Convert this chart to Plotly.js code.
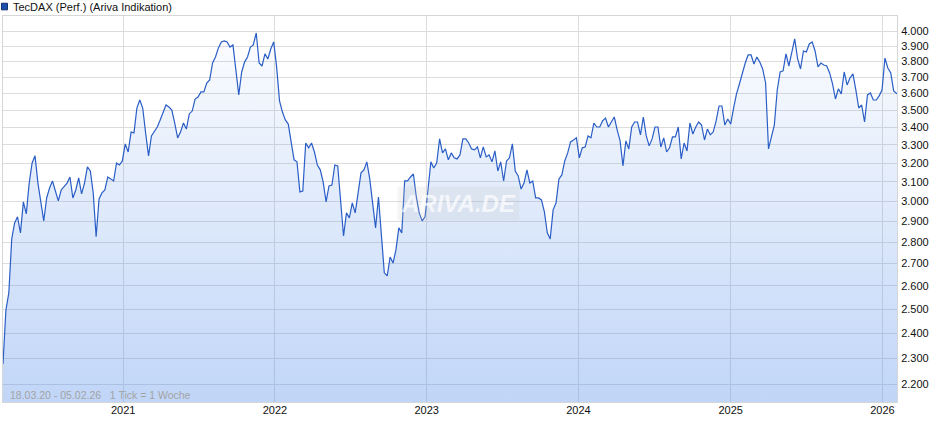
<!DOCTYPE html>
<html>
<head>
<meta charset="utf-8">
<script src="https://cdn.plot.ly/plotly-3.0.1.min.js"></script>
<style>html,body{margin:0;padding:0;background:#fff;}#chart{width:940px;height:435px;}</style>
</head>
<body>
<div id="chart"></div>
<script>
// Weekly ticks ("1 Tick = 1 Woche"), 18.03.20 - 05.02.26
const dates2020 = ['2020-03-18','2020-03-25','2020-04-01','2020-04-08','2020-04-15','2020-04-22','2020-04-29','2020-05-06','2020-05-13','2020-05-20','2020-05-27','2020-06-03','2020-06-10','2020-06-17','2020-06-24','2020-07-01','2020-07-08','2020-07-15','2020-07-22','2020-07-29','2020-08-05','2020-08-12','2020-08-19','2020-08-26','2020-09-02','2020-09-09','2020-09-16','2020-09-23','2020-09-30','2020-10-07','2020-10-14','2020-10-21','2020-10-28','2020-11-04','2020-11-11','2020-11-18','2020-11-25','2020-12-02','2020-12-09','2020-12-16','2020-12-23','2020-12-30'];
const values2020 = [2278,2496,2569,2815,2892,2922,2844,2997,2937,3094,3201,3240,3094,2992,2902,3017,3068,3105,3048,3002,3058,3074,3094,3126,3017,3058,3121,3038,3094,3180,3158,3043,2825,3012,3043,3058,3126,3116,3105,3201,3190,3212];

const dates2021 = ['2021-01-06','2021-01-13','2021-01-20','2021-01-27','2021-02-03','2021-02-10','2021-02-17','2021-02-24','2021-03-03','2021-03-10','2021-03-17','2021-03-24','2021-03-31','2021-04-07','2021-04-14','2021-04-21','2021-04-28','2021-05-05','2021-05-12','2021-05-19','2021-05-26','2021-06-02','2021-06-09','2021-06-16','2021-06-23','2021-06-30','2021-07-07','2021-07-14','2021-07-21','2021-07-28','2021-08-04','2021-08-11','2021-08-18','2021-08-25','2021-09-01','2021-09-08','2021-09-15','2021-09-22','2021-09-29','2021-10-06','2021-10-13','2021-10-20','2021-10-27','2021-11-03','2021-11-10','2021-11-17','2021-11-24','2021-12-01','2021-12-08','2021-12-15','2021-12-22','2021-12-29'];
const values2021 = [3306,3261,3373,3368,3513,3561,3513,3368,3240,3351,3379,3402,3443,3484,3531,3519,3501,3425,3340,3373,3425,3390,3478,3495,3567,3579,3610,3610,3665,3684,3791,3830,3889,3929,3935,3929,3895,3909,3728,3592,3734,3797,3830,3895,3909,3989,3791,3772,3850,3817,3882,3929];

const dates2022 = ['2022-01-05','2022-01-12','2022-01-19','2022-01-26','2022-02-02','2022-02-09','2022-02-16','2022-02-23','2022-03-02','2022-03-09','2022-03-16','2022-03-23','2022-03-30','2022-04-06','2022-04-13','2022-04-20','2022-04-27','2022-05-04','2022-05-11','2022-05-18','2022-05-25','2022-06-01','2022-06-08','2022-06-15','2022-06-22','2022-06-29','2022-07-06','2022-07-13','2022-07-20','2022-07-27','2022-08-03','2022-08-10','2022-08-17','2022-08-24','2022-08-31','2022-09-07','2022-09-14','2022-09-21','2022-09-28','2022-10-05','2022-10-12','2022-10-19','2022-10-26','2022-11-02','2022-11-09','2022-11-16','2022-11-23','2022-11-30','2022-12-07','2022-12-14','2022-12-21','2022-12-28'];
const values2022 = [3766,3555,3489,3443,3419,3317,3218,3207,3048,3053,3311,3284,3311,3261,3190,3164,3099,2997,3079,3084,3190,3185,3007,2829,2942,2917,2992,2942,3043,3148,3164,3207,3116,2972,2868,3022,2825,2658,2644,2730,2702,2763,2868,2844,3105,3105,3126,3142,3022,2942,2902,2922];

const dates2023 = ['2023-01-04','2023-01-11','2023-01-18','2023-01-25','2023-02-01','2023-02-08','2023-02-15','2023-02-22','2023-03-01','2023-03-08','2023-03-15','2023-03-22','2023-03-29','2023-04-05','2023-04-12','2023-04-19','2023-04-26','2023-05-03','2023-05-10','2023-05-17','2023-05-24','2023-05-31','2023-06-07','2023-06-14','2023-06-21','2023-06-28','2023-07-05','2023-07-12','2023-07-19','2023-07-26','2023-08-02','2023-08-09','2023-08-16','2023-08-23','2023-08-30','2023-09-06','2023-09-13','2023-09-20','2023-09-27','2023-10-04','2023-10-11','2023-10-18','2023-10-25','2023-11-01','2023-11-08','2023-11-15','2023-11-22','2023-11-29','2023-12-06','2023-12-13','2023-12-20','2023-12-27'];
const values2023 = [3058,3207,3174,3201,3334,3256,3278,3218,3256,3229,3223,3245,3334,3334,3311,3278,3273,3289,3229,3289,3234,3245,3207,3267,3158,3207,3105,3212,3229,3306,3158,3132,3063,3094,3164,3094,3105,3017,3017,3007,2947,2844,2815,2957,2992,3116,3137,3212,3256,3317,3328,3340];

const dates2024 = ['2024-01-03','2024-01-10','2024-01-17','2024-01-24','2024-01-31','2024-02-07','2024-02-14','2024-02-21','2024-02-28','2024-03-06','2024-03-13','2024-03-20','2024-03-27','2024-04-03','2024-04-10','2024-04-17','2024-04-24','2024-05-01','2024-05-08','2024-05-15','2024-05-22','2024-05-29','2024-06-05','2024-06-12','2024-06-19','2024-06-26','2024-07-03','2024-07-10','2024-07-17','2024-07-24','2024-07-31','2024-08-07','2024-08-14','2024-08-21','2024-08-28','2024-09-04','2024-09-11','2024-09-18','2024-09-25','2024-10-02','2024-10-09','2024-10-16','2024-10-23','2024-10-30','2024-11-06','2024-11-13','2024-11-20','2024-11-27','2024-12-04','2024-12-11','2024-12-18','2024-12-25'];
const values2024 = [3229,3284,3289,3351,3340,3425,3402,3402,3437,3454,3402,3431,3460,3385,3323,3185,3323,3278,3402,3431,3431,3357,3460,3351,3295,3334,3402,3402,3289,3340,3261,3284,3345,3345,3402,3223,3311,3267,3425,3362,3402,3431,3413,3328,3390,3357,3373,3437,3525,3525,3413,3448];

const dates2025 = ['2025-01-01','2025-01-08','2025-01-15','2025-01-22','2025-01-29','2025-02-05','2025-02-12','2025-02-19','2025-02-26','2025-03-05','2025-03-12','2025-03-19','2025-03-26','2025-04-02','2025-04-09','2025-04-16','2025-04-23','2025-04-30','2025-05-07','2025-05-14','2025-05-21','2025-05-28','2025-06-04','2025-06-11','2025-06-18','2025-06-25','2025-07-02','2025-07-09','2025-07-16','2025-07-23','2025-07-30','2025-08-06','2025-08-13','2025-08-20','2025-08-27','2025-09-03','2025-09-10','2025-09-17','2025-09-24','2025-10-01','2025-10-08','2025-10-15','2025-10-22','2025-10-29','2025-11-05','2025-11-12','2025-11-19','2025-11-26','2025-12-03','2025-12-10','2025-12-17','2025-12-24','2025-12-31'];
const values2025 = [3419,3513,3598,3659,3728,3791,3843,3843,3785,3830,3797,3753,3665,3278,3345,3413,3622,3734,3741,3850,3772,3863,3949,3817,3753,3869,3863,3915,3929,3869,3766,3791,3778,3772,3728,3659,3567,3629,3598,3734,3653,3696,3722,3622,3513,3531,3431,3592,3604,3561,3561,3586,3622];

const dates2026 = ['2026-01-07','2026-01-14','2026-01-21','2026-01-28','2026-02-05'];
const values2026 = [3823,3759,3728,3616,3598];

const xTickVals = ['2021-01-01','2022-01-01','2023-01-01','2024-01-01','2025-01-01','2026-01-01'];
const xTickText = ['2021','2022','2023','2024','2025','2026'];
const yTickVals = [2200,2300,2400,2500,2600,2700,2800,2900,3000,3100,3200,3300,3400,3500,3600,3700,3800,3900,4000];
const yTickText = ['2.200','2.300','2.400','2.500','2.600','2.700','2.800','2.900','3.000','3.100','3.200','3.300','3.400','3.500','3.600','3.700','3.800','3.900','4.000'];

const seriesName = 'TecDAX (Perf.) (Ariva Indikation)';
const periodText = '18.03.20 - 05.02.26\u00a0\u00a0 1 Tick = 1 Woche';

const dates = [].concat(dates2020, dates2021, dates2022, dates2023, dates2024, dates2025, dates2026);
const values = [].concat(values2020, values2021, values2022, values2023, values2024, values2025, values2026);

const yMin = 2136, yMax = 4105;

const trace = {
  type: 'scatter',
  mode: 'lines',
  x: dates,
  y: values,
  name: seriesName,
  line: {color: '#2a5ec6', width: 1.2},
  fill: 'tozeroy',
  fillgradient: {
    type: 'vertical',
    start: yMin,
    stop: 4000,
    colorscale: [[0, 'rgba(90,145,235,0.38)'], [1, 'rgba(90,145,235,0.02)']]
  },
  hoverinfo: 'x+y',
  showlegend: false
};

const font = 'Liberation Sans, Arial, sans-serif';

const layout = {
  width: 940,
  height: 435,
  margin: {l: 3, r: 43, t: 16, b: 33, pad: 0},
  paper_bgcolor: '#ffffff',
  plot_bgcolor: '#ffffff',
  font: {family: font, size: 11, color: '#111111'},
  showlegend: false,
  xaxis: {
    type: 'date',
    range: ['2020-03-18', '2026-02-05'],
    tickvals: xTickVals,
    ticktext: xTickText,
    showgrid: true,
    gridcolor: '#dcdcdc',
    gridwidth: 1,
    showline: true,
    linecolor: '#d6d6d6',
    linewidth: 1,
    mirror: true,
    ticks: '',
    ticklabelstandoff: -2,
    zeroline: false,
    tickfont: {family: font, size: 11, color: '#111111'},
    fixedrange: true
  },
  yaxis: {
    type: 'log',
    range: [Math.log10(yMin), Math.log10(yMax)],
    side: 'right',
    tickvals: yTickVals,
    ticktext: yTickText,
    showgrid: true,
    gridcolor: '#dcdcdc',
    gridwidth: 1,
    showline: true,
    linecolor: '#d6d6d6',
    linewidth: 1,
    mirror: true,
    ticks: '',
    ticklabelstandoff: 1,
    zeroline: false,
    tickfont: {family: font, size: 11, color: '#111111'},
    fixedrange: true
  },
  shapes: [
    {type: 'rect', xref: 'paper', yref: 'paper', x0: -0.0017, x1: 0.0050, y0: 1.0160, y1: 1.0330,
     fillcolor: '#1d4fae', line: {color: '#10306e', width: 1}}
  ],
  annotations: [
    {xref: 'paper', yref: 'paper', x: 0.0085, y: 1.0235, xanchor: 'left', yanchor: 'middle',
     text: seriesName, showarrow: false, font: {family: font, size: 11, color: '#111111'}},
    {xref: 'paper', yref: 'paper', x: 0.0056, y: 0.018, xanchor: 'left', yanchor: 'middle',
     text: periodText, showarrow: false, font: {family: font, size: 10.5, color: '#a3a3a3'}},
    {xref: 'paper', yref: 'paper', x: 0.5095, y: 0.514, xanchor: 'center', yanchor: 'middle',
     text: '<b><i>ARIVA.DE</i></b>', showarrow: false,
     bgcolor: 'rgba(200,200,200,0.2)', borderpad: 3,
     font: {family: font, size: 24, color: 'rgba(255,255,255,0.7)'}}
  ]
};

Plotly.newPlot('chart', [trace], layout, {displayModeBar: false, staticPlot: true});
</script>
</body>
</html>
